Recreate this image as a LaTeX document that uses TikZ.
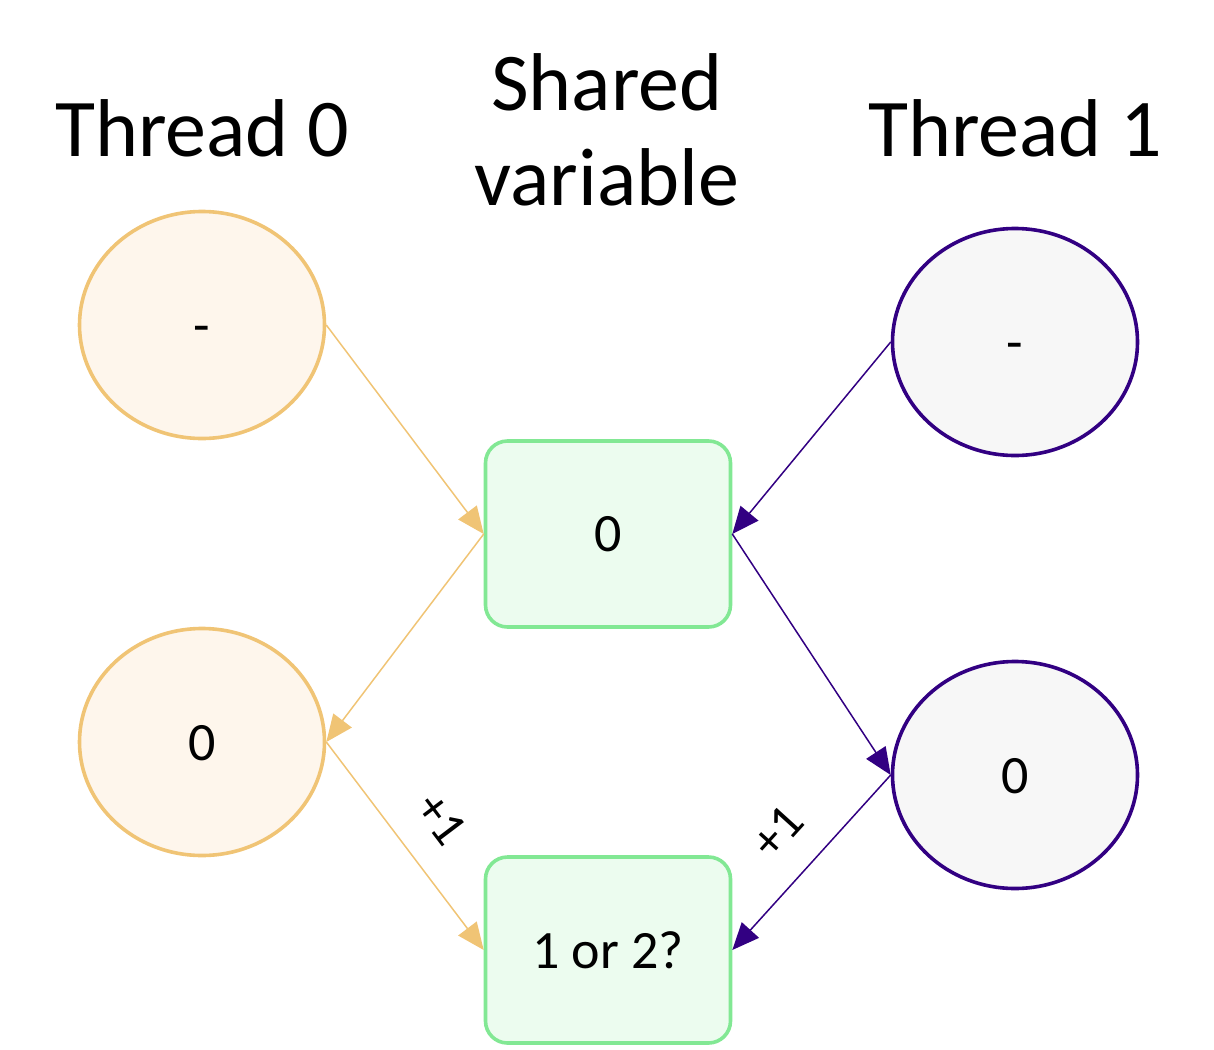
\documentclass[tikz,border=0pt]{standalone}
\usepackage{fontspec}
\setmainfont{Carlito}
\usetikzlibrary{arrows.meta,shapes.geometric}
\definecolor{tzero}{RGB}{240,196,117}
\definecolor{tzerofill}{RGB}{254,246,236}
\definecolor{tone}{RGB}{50,0,130}
\definecolor{tonefill}{RGB}{247,247,247}
\definecolor{varline}{RGB}{130,232,148}
\definecolor{varfill}{RGB}{236,252,239}

\begin{document}
\begin{tikzpicture}[x=.5pt,y=-.5pt,
  thr/.style={ellipse,line width=1.8pt,minimum width=122.5pt,minimum height=113.5pt,
    text height=18pt,text depth=0pt,font=\fontsize{27}{32}\selectfont},
  var/.style={rectangle,rounded corners=11pt,draw=varline,fill=varfill,line width=1.8pt,
    minimum width=122.5pt,minimum height=93pt,font=\fontsize{27}{32}\selectfont},
  hd/.style={font=\fontsize{41}{47.5}\selectfont,align=center},
  lnk/.style={-{Triangle[length=13.5pt,width=11.5pt]},line width=.75pt},
  inc/.style={above=11pt,sloped,font=\fontsize{25}{30}\selectfont}]
 \useasboundingbox (0,0) rectangle (1214,1049);
 % headings
 \node[hd] (h0) at (202,128) {Thread 0};
 \node[hd] (hs) at (607,130) {Shared\\variable};
 \node[hd] (h1) at (1015,128) {Thread 1};
 % shared variable
 \node[var] (sv0) at (608,534) {0};
 \node[var] (sv1) at (608,950) {1 or 2?};
 % threads
 \foreach \n/\x/\y/\t in {t0a/202/325/-,t0b/202/742/0}
  \node[thr,draw=tzero,fill=tzerofill] (\n) at (\x,\y) {\t};
 \foreach \n/\x/\y/\t in {t1a/1015/342/-,t1b/1015/775/0}
  \node[thr,draw=tone,fill=tonefill] (\n) at (\x,\y) {\t};
 % reads and writes
 \draw[lnk,tzero] (t0a.east) -- (sv0.west);
 \draw[lnk,tzero] (sv0.west) -- (t0b.east);
 \draw[lnk,tzero] (t0b.east) -- node[inc,text=black] {+1} (sv1.west);
 \draw[lnk,tone] (t1a.west) -- (sv0.east);
 \draw[lnk,tone] (sv0.east) -- (t1b.west);
 \draw[lnk,tone] (t1b.west) -- node[inc,text=black] {+1} (sv1.east);
\end{tikzpicture}
\end{document}
